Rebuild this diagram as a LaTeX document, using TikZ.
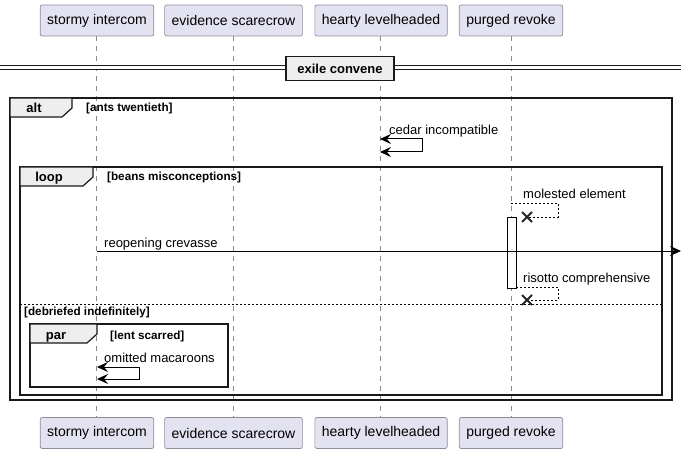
\documentclass[tikz,border=0pt]{standalone}
\usepackage{fontspec}
\setmainfont{Liberation Sans}
\usetikzlibrary{arrows.meta, positioning, calc}
\definecolor{partfill}{HTML}{E2E2F0}
\definecolor{partline}{HTML}{8C8C9A}
\definecolor{tabfill}{HTML}{EEEEEE}
\definecolor{llgray}{HTML}{8A8A8A}
\tikzstyle{participant} = [rectangle, rounded corners=2pt, draw=partline, fill=partfill, line width=0.7pt, minimum height=31pt, inner xsep=7pt, font=\fontsize{14}{16}\selectfont]
\tikzstyle{lifeline} = [draw=llgray, line width=0.6pt, dash pattern=on 5pt off 5pt]
\tikzstyle{msgtext} = [anchor=base west, inner sep=0pt, font=\fontsize{13}{15}\selectfont]
\tikzstyle{condtext} = [anchor=base west, inner sep=0pt, font=\bfseries\fontsize{11.7}{13}\selectfont]
\tikzstyle{grouptext} = [anchor=base, inner sep=0pt, font=\bfseries\fontsize{13}{15}\selectfont]
\tikzstyle{frame} = [draw=black!90, line width=1.5pt]
\tikzstyle{tab} = [draw=black!90, line width=1.2pt, fill=tabfill]
\tikzstyle{divider} = [rectangle, draw=black!90, line width=1.5pt, fill=tabfill, minimum width=108pt, minimum height=24pt, font=\bfseries\fontsize{13}{15}\selectfont]
\tikzstyle{divline} = [draw=black!90, line width=1pt, double, double distance=3pt]
\tikzstyle{msg} = [draw=black, line width=1pt, -{Stealth[length=11pt, width=10pt, inset=4pt]}]
\tikzstyle{selfmsg} = [draw=black, line width=1pt, {Stealth[length=11pt, width=10pt, inset=4pt]}-{Stealth[length=11pt, width=10pt, inset=4pt]}]
\tikzstyle{reply} = [draw=black, line width=0.8pt, dash pattern=on 2pt off 2pt]
\tikzstyle{lost} = [draw=black!85, line width=2pt]
\tikzstyle{activation} = [rectangle, draw=black, fill=white, line width=0.8pt, minimum width=9pt, minimum height=71pt, inner sep=0pt]

\begin{document}
\begin{tikzpicture}[x=1pt, y=-1pt]
    \useasboundingbox (0,0) rectangle (687,454);
    % participants
    \node (siT) [participant] at (97,20.5) {stormy intercom};
    \node (esT) [participant] at (233.5,20.5) {evidence scarecrow};
    \node (hlT) [participant] at (381,20.5) {hearty levelheaded};
    \node (prT) [participant] at (511,20.5) {purged revoke};
    \node (siB) [participant] at (97,433) {stormy intercom};
    \node (esB) [participant] at (233.5,433) {evidence scarecrow};
    \node (hlB) [participant] at (381,433) {hearty levelheaded};
    \node (prB) [participant] at (511,433) {purged revoke};
    \draw [lifeline] ([xshift=-0.5pt]siT.south) -- ([xshift=-0.5pt]siB.north);
    \draw [lifeline] ([xshift=-0.5pt]esT.south) -- ([xshift=-0.5pt]esB.north);
    \draw [lifeline] ([xshift=-1pt]hlT.south) -- ([xshift=-1pt]hlB.north);
    \draw [lifeline] (prT.south) -- (prB.north);

    % divider
    \node (dvd) [divider] at (340,68.5) {exile convene};
    \coordinate (dvL) at (0,68);
    \coordinate (dvR) at (681,68);
    \draw [divline] (dvL) -- (dvd.west |- dvL);
    \draw [divline] (dvd.east |- dvR) -- (dvR);

    % alt frame
    \draw [frame] (10,98) rectangle (672,400);
    \draw [tab] (10,98) -- (72,98) -- (72,108) -- (62,117) -- (10,117) -- cycle;
    \node (altlbl) [grouptext] at (34,113) {alt};
    \node (altcond) [condtext] at (86,112) {[ants twentieth]};

    % loop frame
    \draw [frame] (20,167) rectangle (662,395);
    \draw [tab] (20,167) -- (93,167) -- (93,177) -- (83,186) -- (20,186) -- cycle;
    \node (looplbl) [grouptext] at (49,182) {loop};
    \node (loopcond) [condtext] at (107,181) {[beans misconceptions]};
    \draw [reply] (20,304) -- (662,304);
    \node (elsecond) [condtext] at (24,315) {[debriefed indefinitely]};

    % par frame
    \draw [frame] (30,324) rectangle (228,387);
    \draw [tab] (30,324) -- (97,324) -- (97,334) -- (87,343) -- (30,343) -- cycle;
    \node (parlbl) [grouptext] at (56,339) {par};
    \node (parcond) [condtext] at (110,339) {[lent scarred]};

    % messages
    \coordinate (cedarA) at (380,139);
    \coordinate (cedarB) at (380,152);
    \draw [selfmsg] (cedarA) -- ++(42,0) |- (cedarB);
    \node (cedartxt) [msgtext] at (389,135) {cedar incompatible};

    \node (prAct) [activation] at (511.5,252.5) {};
    \coordinate (moleA) at (511,203);
    \coordinate (moleX) at (527,217);
    \draw [reply] (moleA) -- ++(47,0) |- (moleX);
    \draw [lost] ($(moleX)+(-5,-5)$) -- ($(moleX)+(5,5)$);
    \draw [lost] ($(moleX)+(-5,5)$) -- ($(moleX)+(5,-5)$);
    \node (moletxt) [msgtext] at (523,199) {molested element};

    \coordinate (reopenA) at (97,251);
    \coordinate (reopenB) at (681,251);
    \draw [msg] (reopenA) -- (reopenB);
    \node (reopentxt) [msgtext] at (104,247) {reopening crevasse};

    \coordinate (risoA) at (prAct.east |- 0,287);
    \coordinate (risoX) at (527,300);
    \draw [reply] (risoA) -- ++(42,0) |- (risoX);
    \draw [lost] ($(risoX)+(-5,-5)$) -- ($(risoX)+(5,5)$);
    \draw [lost] ($(risoX)+(-5,5)$) -- ($(risoX)+(5,-5)$);
    \node (risotxt) [msgtext] at (523,282) {risotto comprehensive};

    \coordinate (omitA) at (97,367);
    \coordinate (omitB) at (97,379);
    \draw [selfmsg] (omitA) -- ++(42,0) |- (omitB);
    \node (omittxt) [msgtext] at (104,362) {omitted macaroons};
\end{tikzpicture}
\end{document}
